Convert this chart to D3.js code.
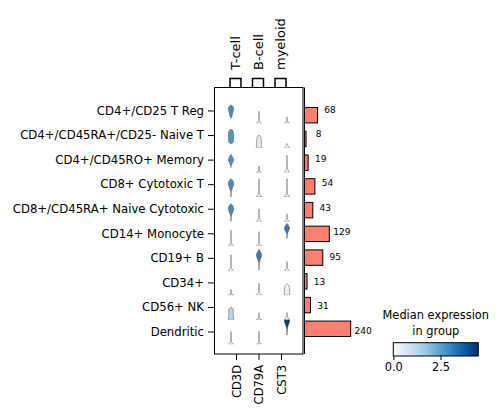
<!DOCTYPE html>
<html><head><meta charset="utf-8">
<script src="https://cdn.jsdelivr.net/npm/d3@7"></script>
<style>
body{margin:0;background:#fff}
svg{display:block}
text{font-family:"DejaVu Sans",sans-serif;fill:#000}
</style>
</head><body>
<svg id="chart" width="500" height="417"></svg>
<script>
// ---------------- data ----------------
const categories = ["CD4+/CD25 T Reg","CD4+/CD45RA+/CD25- Naive T","CD4+/CD45RO+ Memory",
  "CD8+ Cytotoxic T","CD8+/CD45RA+ Naive Cytotoxic","CD14+ Monocyte","CD19+ B","CD34+",
  "CD56+ NK","Dendritic"];
const genes = ["CD3D","CD79A","CST3"];
const geneGroups = ["T-cell","B-cell","myeloid"];
const cellCounts = [68,8,19,54,43,129,95,13,31,240];
// median expression per category x gene (colour of violin)
const medianCD3D  = [2.9,2.7,2.8,2.9,2.9,0,0,0,1.35,0];
const medianCD79A = [0,0.6,0,0,0,0,3.15,0,0,0];
const medianCST3  = [0,0,0,0,0,3.25,0,0.3,0,4.4];
// violin profiles: [expression value, relative width]
const violinCD3D = [
  [[1.06,0.04],[1.3,0.3],[1.9,0.6],[2.7,0.9],[2.95,1.0],[3.3,0.8],[3.66,0]],
  [[0.84,0.3],[1.1,0.8],[2.0,1.0],[3.0,0.92],[3.5,0.6],[3.72,0]],
  [[1.0,0.03],[1.4,0.15],[2.0,0.6],[2.55,1.0],[3.1,0.55],[3.62,0]],
  [[0,0.03],[1.0,0.06],[1.4,0.25],[2.0,0.7],[2.66,1.0],[3.2,0.75],[3.66,0]],
  [[0,0.03],[0.9,0.06],[1.3,0.25],[1.9,0.7],[2.56,1.0],[3.1,0.75],[3.56,0]],
  [[0,1],[0.66,0.06],[3.2,0.02],[3.22,0]],
  [[0,1],[0.7,0.06],[3.1,0.02],[3.14,0]],
  [[0,1],[0.35,0.08],[1.15,0.02],[1.18,0]],
  [[0,1],[0.6,0.95],[1.2,0.8],[1.8,0.9],[2.2,0.7],[2.5,0]],
  [[0,1],[0.6,0.06],[2.5,0.02],[2.52,0]]
];
const violinCD79A = [
  [[0,1],[0.55,0.06],[2.3,0.02],[2.4,0]],
  [[0,1],[0.5,0.95],[1.5,0.85],[2.1,0.7],[2.4,0.4],[2.52,0]],
  [[0,1],[0.35,0.08],[1.25,0.02],[1.28,0]],
  [[0,1],[0.94,0.06],[3.6,0.02],[3.66,0]],
  [[0,1],[0.8,0.06],[2.5,0.02],[2.56,0]],
  [[0,1],[0.66,0.06],[2.85,0.02],[2.88,0]],
  [[0,0.02],[1.4,0.06],[2.0,0.35],[3.14,1.0],[3.8,0.45],[4.28,0]],
  [[0,1],[0.8,0.08],[2.35,0.02],[2.38,0]],
  [[0,1],[0.45,0.08],[1.4,0.02],[1.42,0]],
  [[0,1],[0.4,0.06],[2.6,0.02],[2.62,0]]
];
const violinCST3 = [
  [[0,1],[0.5,0.05],[1.2,0.02],[1.26,0]],
  [[0,1],[0.6,0.15],[0.85,0]],
  [[0,1],[1.0,0.06],[3.4,0.02],[3.42,0]],
  [[0,1],[0.9,0.06],[3.6,0.02],[3.66,0]],
  [[0,1],[0.5,0.08],[1.5,0.02],[1.56,0]],
  [[1.56,0.02],[2.3,0.1],[2.9,0.5],[3.56,1.0],[4.1,0.5],[4.56,0]],
  [[0,1],[0.6,0.06],[1.75,0.02],[1.8,0]],
  [[0,1],[0.5,1.0],[1.5,0.9],[1.9,0.7],[2.15,0.3],[2.24,0]],
  [[0,1],[0.6,0.2],[1.2,0.05],[1.45,0]],
  [[1.86,0.02],[2.8,0.08],[3.5,0.3],[4.1,0.7],[4.5,0.95],[4.9,1.0],[5.3,0.6],[5.6,0]]
];
const colorbarTicks = [0, 2.5];
const colorMax = 4.5;

// ---------------- drawing ----------------
const svg = d3.select("#chart");
const frameTop = 87.5, frameBottom = 354, frameLeft = 214.5, frameRight = 303;
const rowsTop = 98.7, rowsBottom = 344.3;

const rowScale = d3.scaleBand().domain(categories).range([rowsTop, rowsBottom]);
const step = rowScale.bandwidth();
const valueScale = d3.scaleLinear().domain([0, step/5]).range([step, 0]);
const violinX = d3.scaleBand().domain(genes).range([217, 301]);
const tickX = d3.scalePoint().domain(genes).range([236, 281]);
const widthScale = d3.scaleLinear().domain([0,1]).range([0, 2.7]);
const colorScale = d3.scaleSequential(d3.interpolateBlues).domain([0, colorMax]);
const desat = c => { const h = d3.hsl(c); h.s *= 0.78; return h.formatHex(); };

const medians = {CD3D: medianCD3D, CD79A: medianCD79A, CST3: medianCST3};
const profiles = {CD3D: violinCD3D, CD79A: violinCD79A, CST3: violinCST3};

const defs = svg.append("defs");
categories.forEach((c,i) => {
  defs.append("clipPath").attr("id","row"+i)
    .append("rect").attr("x", frameLeft).attr("y", rowScale(c))
    .attr("width", frameRight-frameLeft).attr("height", step);
});

// violins
categories.forEach((c,i) => {
  const g = svg.append("g").attr("clip-path", `url(#row${i})`);
  genes.forEach(gene => {
    const cx = violinX(gene) + violinX.bandwidth()/2;
    const area = d3.area()
      .curve(d3.curveMonotoneY)
      .y(d => rowScale(c) + valueScale(d[0]))
      .x0(d => cx - widthScale(d[1]))
      .x1(d => cx + widthScale(d[1]));
    g.append("path")
      .attr("d", area(profiles[gene][i]))
      .attr("fill", desat(colorScale(medians[gene][i])))
      .attr("stroke", "#555").attr("stroke-width", 0.5);
  });
});

// main frame
svg.append("rect").attr("x", frameLeft).attr("y", frameTop)
  .attr("width", frameRight-frameLeft).attr("height", frameBottom-frameTop)
  .attr("fill","none").attr("stroke","#000").attr("stroke-width",1);

// left axis
const yAxis = svg.append("g").attr("transform", `translate(${frameLeft},0)`)
  .call(d3.axisLeft(rowScale).tickSize(6.5).tickPadding(4));
yAxis.select(".domain").remove();
yAxis.selectAll("text").style("font-size","11.7px").attr("fill","#000");
yAxis.selectAll("line").attr("stroke","#000");

// bottom axis
const xAxis = svg.append("g").attr("transform", `translate(0,${frameBottom})`)
  .call(d3.axisBottom(tickX).tickSize(6));
xAxis.select(".domain").remove();
xAxis.selectAll("line").attr("stroke","#000");
xAxis.selectAll("text").style("font-size","11.5px")
  .attr("transform","rotate(-90)").attr("x",-11).attr("y",0).attr("dy","0.35em")
  .attr("text-anchor","end");

// gene group brackets
const brTop = 78.5;
geneGroups.forEach((grp,k) => {
  const cx = tickX(genes[k]);
  svg.append("path")
    .attr("d", `M${cx-6},${frameTop}V${brTop}H${cx+5}V${frameTop}`)
    .attr("fill","none").attr("stroke","#000").attr("stroke-width",1.5);
  svg.append("text").attr("transform", `translate(${cx-0.5},70) rotate(-90)`)
    .attr("dy","0.35em").attr("text-anchor","start").style("font-size","13px").text(grp);
});

// bar chart of cell counts
const barX = d3.scaleLinear().domain([0, 240]).range([304.5, 350.7]);
const barY = d3.scaleBand().domain(categories).range([rowsTop, rowsBottom]).padding(0.35);
svg.selectAll("rect.bar").data(categories).enter().append("rect").attr("class","bar")
  .attr("x", barX(0)).attr("y", d => barY(d)+0.5)
  .attr("width", (d,i) => barX(cellCounts[i]) - barX(0)).attr("height", barY.bandwidth())
  .attr("fill","#fa8072").attr("stroke","#000").attr("stroke-width",1);
svg.selectAll("text.cnt").data(categories).enter().append("text").attr("class","cnt")
  .attr("x", (d,i) => barX(cellCounts[i]) + 12.5)
  .attr("y", d => rowScale(d) + step/2 - 1.5)
  .attr("dy","0.35em").attr("text-anchor","middle").style("font-size","9px")
  .text((d,i) => cellCounts[i]);
svg.append("line").attr("x1", barX(0)).attr("x2", barX(0)).attr("y1", frameTop).attr("y2", frameBottom)
  .attr("stroke","#000").attr("stroke-width",1);

// colorbar
const cbX = d3.scaleLinear().domain([0, colorMax]).range([393.3, 478.3]);
const grad = defs.append("linearGradient").attr("id","cbgrad");
d3.range(0, 1.0001, 0.05).forEach(t => {
  grad.append("stop").attr("offset", t).attr("stop-color", colorScale(t*colorMax));
});
svg.append("rect").attr("x", cbX(0)).attr("y", 342.7).attr("width", cbX(colorMax)-cbX(0)).attr("height", 13.3)
  .attr("fill","url(#cbgrad)").attr("stroke","#000").attr("stroke-width",1);
const cbAxis = svg.append("g").attr("transform","translate(0,356)")
  .call(d3.axisBottom(cbX).tickValues(colorbarTicks).tickFormat(d3.format(".1f")).tickSize(4).tickPadding(3));
cbAxis.select(".domain").remove();
cbAxis.selectAll("line").attr("stroke","#000");
cbAxis.selectAll("text").style("font-size","11.4px");
const cbMid = (cbX(0)+cbX(colorMax))/2;
const cbTitle = svg.append("text").attr("text-anchor","middle").style("font-size","11.4px");
cbTitle.append("tspan").attr("x",cbMid).attr("y",319).text("Median expression");
cbTitle.append("tspan").attr("x",cbMid).attr("y",335).text("in group");
</script>
</body></html>
